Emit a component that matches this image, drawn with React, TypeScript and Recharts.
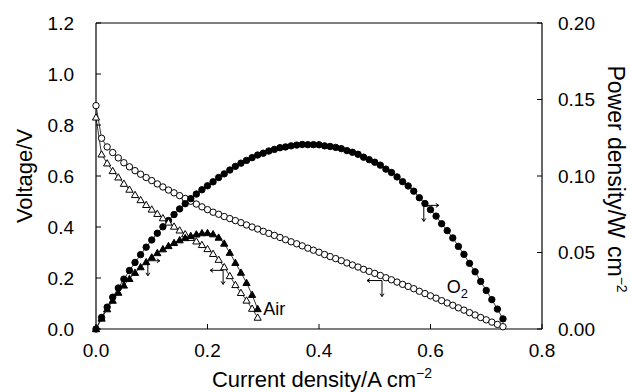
// Fuel cell polarisation and power density curves (O2 vs Air)
import { LineChart, Line, XAxis, YAxis, ReferenceLine, ReferenceDot, Label } from "recharts";

const o2Current = [
  0, 0.01, 0.02, 0.03, 0.04, 0.05, 0.06, 0.07, 0.08, 0.09,
  0.1, 0.11, 0.12, 0.13, 0.14, 0.15, 0.16, 0.17, 0.18, 0.19,
  0.2, 0.21, 0.22, 0.23, 0.24, 0.25, 0.26, 0.27, 0.28, 0.29,
  0.3, 0.31, 0.32, 0.33, 0.34, 0.35, 0.36, 0.37, 0.38, 0.39,
  0.4, 0.41, 0.42, 0.43, 0.44, 0.45, 0.46, 0.47, 0.48, 0.49,
  0.5, 0.51, 0.52, 0.53, 0.54, 0.55, 0.56, 0.57, 0.58, 0.59,
  0.6, 0.61, 0.62, 0.63, 0.64, 0.65, 0.66, 0.67, 0.68, 0.69,
  0.7, 0.71, 0.72, 0.73,
];
const o2Voltage = [
  0.876, 0.748, 0.714, 0.692, 0.671, 0.652, 0.636, 0.621, 0.607, 0.594,
  0.582, 0.569, 0.557, 0.545, 0.534, 0.523, 0.512, 0.501, 0.49, 0.479,
  0.468, 0.458, 0.45, 0.441, 0.433, 0.425, 0.417, 0.408, 0.4, 0.392,
  0.383, 0.375, 0.367, 0.359, 0.35, 0.342, 0.334, 0.326, 0.317, 0.309,
  0.301, 0.292, 0.284, 0.276, 0.268, 0.259, 0.251, 0.243, 0.234, 0.226,
  0.218, 0.21, 0.201, 0.193, 0.184, 0.175, 0.167, 0.158, 0.148, 0.139,
  0.13, 0.121, 0.111, 0.102, 0.093, 0.083, 0.074, 0.064, 0.055, 0.045,
  0.036, 0.027, 0.018, 0.009,
];
const o2Power = [
  0, 0.0075, 0.0143, 0.0208, 0.0268, 0.0326, 0.0382, 0.0435, 0.0486, 0.0535,
  0.0582, 0.0626, 0.0668, 0.0709, 0.0748, 0.0785, 0.0819, 0.0852, 0.0882, 0.091,
  0.0936, 0.0962, 0.099, 0.1014, 0.1039, 0.1063, 0.1084, 0.1102, 0.112, 0.1137,
  0.1149, 0.1163, 0.1174, 0.1185, 0.119, 0.1197, 0.1202, 0.1206, 0.1205, 0.1205,
  0.1204, 0.1197, 0.1193, 0.1187, 0.1179, 0.1166, 0.1155, 0.1142, 0.1123, 0.1107,
  0.109, 0.1071, 0.1045, 0.1023, 0.0994, 0.0963, 0.0935, 0.0901, 0.0858, 0.082,
  0.078, 0.0738, 0.0688, 0.0643, 0.0595, 0.054, 0.0488, 0.0429, 0.0374, 0.0311,
  0.0252, 0.0192, 0.013, 0.0066,
];

const airCurrent = [
  0, 0.01, 0.02, 0.03, 0.04, 0.05, 0.06, 0.07, 0.08, 0.09,
  0.1, 0.11, 0.12, 0.13, 0.14, 0.15, 0.16, 0.17, 0.18, 0.19,
  0.2, 0.21, 0.22, 0.23, 0.24, 0.25, 0.26, 0.27, 0.28, 0.29,
];
const airVoltage = [
  0.83, 0.685, 0.65, 0.62, 0.595, 0.57, 0.547, 0.526, 0.506, 0.487,
  0.469, 0.452, 0.435, 0.418, 0.402, 0.387, 0.372, 0.358, 0.344, 0.33,
  0.314, 0.295, 0.272, 0.243, 0.208, 0.173, 0.142, 0.112, 0.08, 0.045,
];
const airPower = [
  0, 0.0069, 0.013, 0.0186, 0.0238, 0.0285, 0.0328, 0.0368, 0.0405, 0.0438,
  0.0469, 0.0497, 0.0522, 0.0543, 0.0563, 0.0581, 0.0595, 0.0609, 0.0619, 0.0627,
  0.0628, 0.062, 0.0598, 0.0559, 0.0499, 0.0433, 0.0369, 0.0302, 0.0224, 0.0131,
];

const xTicks = [0, 0.2, 0.4, 0.6, 0.8];
const voltTicks = [0, 0.2, 0.4, 0.6, 0.8, 1.0, 1.2];
const powerTicks = [0, 0.05, 0.1, 0.15, 0.2];

const FONT = "'Liberation Sans', Arial, sans-serif";

const toPoints = (xs: number[], ys: number[]) => xs.map((x, i) => ({ x, y: ys[i] }));

const o2V = toPoints(o2Current, o2Voltage);
const o2P = toPoints(o2Current, o2Power);
const airV = toPoints(airCurrent, airVoltage);
const airP = toPoints(airCurrent, airPower);

const circle = (filled: boolean) => (p: any) => (
  <circle key={p.index} cx={p.cx} cy={p.cy} r={3.2} fill={filled ? "#000" : "#fff"} stroke="#000" strokeWidth={1} />
);

const triangle = (filled: boolean) => (p: any) => {
  const { cx, cy } = p;
  const s = 3.6;
  return (
    <polygon
      key={p.index}
      points={`${cx},${cy - s} ${cx - s},${cy + s * 0.75} ${cx + s},${cy + s * 0.75}`}
      fill={filled ? "#000" : "#fff"}
      stroke="#000"
      strokeWidth={1}
    />
  );
};

// L-shaped pointer telling which axis a curve belongs to
const pointer = (dx: number, dy: number) => (p: any) => {
  const { cx, cy } = p;
  const hx = cx + dx;
  const vy = cy + dy;
  const s = Math.sign(dx);
  return (
    <g stroke="#000" strokeWidth={1} fill="none">
      <line x1={cx} y1={cy} x2={hx} y2={cy} />
      <line x1={cx} y1={cy} x2={cx} y2={vy} />
      <polyline points={`${hx - s * 3},${cy - 2} ${hx},${cy} ${hx - s * 3},${cy + 2}`} />
      <polyline points={`${cx - 2},${vy - 3} ${cx},${vy} ${cx + 2},${vy - 3}`} />
    </g>
  );
};

const textAt = (content: React.ReactNode, anchor: string) => (p: any) => (
  <text x={p.cx} y={p.cy} textAnchor={anchor} fontFamily={FONT} fontSize={18} fill="#000">
    {content}
  </text>
);

const XTitle = () => (
  <text x={322} y={387} textAnchor="middle" fontFamily={FONT} fontSize={22} fill="#000">
    Current density/A cm
    <tspan fontSize={14} dy={-9}>−2</tspan>
  </text>
);

const LeftTitle = () => (
  <text x={32} y={176} transform="rotate(-90 32 176)" textAnchor="middle" fontFamily={FONT} fontSize={22} fill="#000">
    Voltage/V
  </text>
);

const RightTitle = () => (
  <text x={608} y={179} transform="rotate(90 608 179)" textAnchor="middle" fontFamily={FONT} fontSize={23} fill="#000">
    Power density/W
    <tspan dx={8}>cm</tspan>
    <tspan fontSize={14} dy={-9}>−2</tspan>
  </text>
);

export default function App() {
  const tick = { fill: "#000", fontSize: 19, fontFamily: FONT };
  return (
    <div style={{ position: "absolute", left: 0, top: 0, background: "#fff" }}>
      <LineChart width={631} height={392} margin={{ top: 23, right: 0, bottom: 0, left: 0 }}>
        <XAxis
          type="number"
          dataKey="x"
          domain={[0, 0.8]}
          ticks={xTicks}
          interval={0}
          tickFormatter={(v: number) => v.toFixed(1)}
          tick={tick}
          tickSize={-5}
          tickMargin={20}
          height={63}
          axisLine={{ stroke: "#000", strokeWidth: 1.2 }}
          tickLine={{ stroke: "#000" }}
        >
          <Label content={<XTitle />} />
        </XAxis>
        <YAxis
          yAxisId="v"
          type="number"
          domain={[0, 1.2]}
          ticks={voltTicks}
          interval={0}
          tickFormatter={(v: number) => v.toFixed(1)}
          tick={tick}
          tickSize={-5}
          tickMargin={27}
          width={96}
          axisLine={{ stroke: "#000", strokeWidth: 1.2 }}
          tickLine={{ stroke: "#000" }}
        >
          <Label content={<LeftTitle />} />
        </YAxis>
        <YAxis
          yAxisId="p"
          orientation="right"
          type="number"
          domain={[0, 0.2]}
          ticks={powerTicks}
          interval={0}
          tickFormatter={(v: number) => v.toFixed(2)}
          tick={tick}
          tickSize={-5}
          tickMargin={21}
          width={89}
          axisLine={{ stroke: "#000", strokeWidth: 1.2 }}
          tickLine={{ stroke: "#000" }}
        >
          <Label content={<RightTitle />} />
        </YAxis>
        <ReferenceLine yAxisId="v" y={1.2} stroke="#000" strokeWidth={1.2} />

        <Line data={o2V} dataKey="y" yAxisId="v" stroke="#000" strokeWidth={0.8} dot={circle(false)} isAnimationActive={false} />
        <Line data={o2P} dataKey="y" yAxisId="p" stroke="#000" strokeWidth={0.8} dot={circle(true)} isAnimationActive={false} />
        <Line data={airV} dataKey="y" yAxisId="v" stroke="#000" strokeWidth={0.8} dot={triangle(false)} isAnimationActive={false} />
        <Line data={airP} dataKey="y" yAxisId="p" stroke="#000" strokeWidth={0.8} dot={triangle(true)} isAnimationActive={false} />

        <ReferenceDot yAxisId="p" x={0.588} y={0.0808} shape={pointer(15, 16)} />
        <ReferenceDot yAxisId="p" x={0.093} y={0.0446} shape={pointer(12, 15)} />
        <ReferenceDot yAxisId="v" x={0.228} y={0.23} shape={pointer(-13, 14)} />
        <ReferenceDot yAxisId="v" x={0.513} y={0.19} shape={pointer(-15, 16)} />

        <ReferenceDot yAxisId="v" x={0.3} y={0.055} shape={textAt("Air", "start")} />
        <ReferenceDot
          yAxisId="v"
          x={0.648}
          y={0.14}
          shape={textAt(<>O<tspan fontSize={13} dy={5}>2</tspan></>, "middle")}
        />
      </LineChart>
    </div>
  );
}
